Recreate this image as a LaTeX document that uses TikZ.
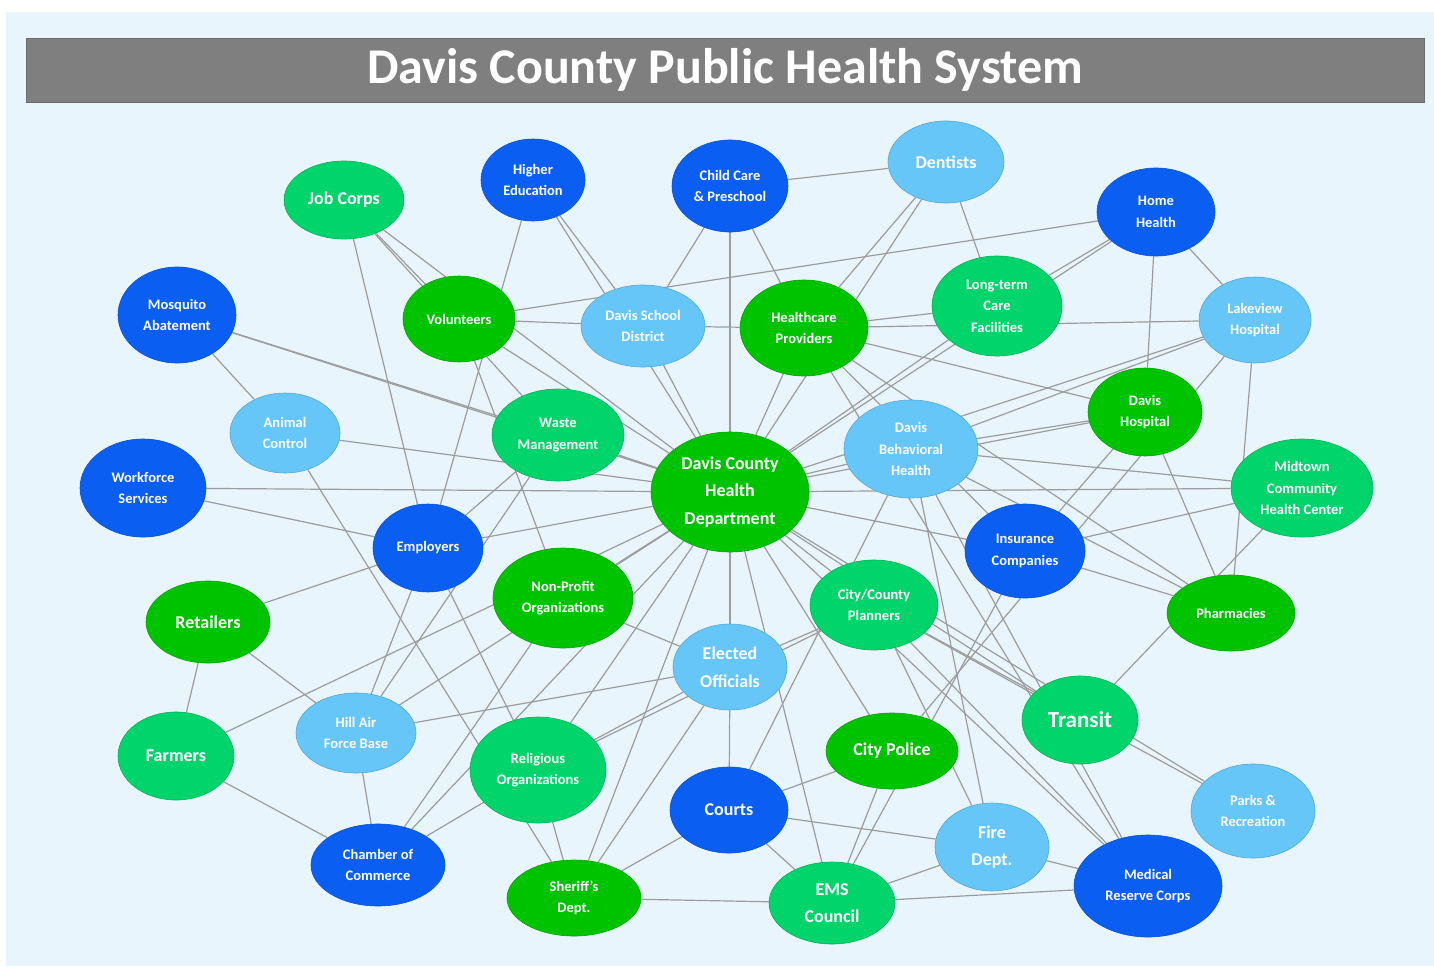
\documentclass[tikz,border=0pt]{standalone}
\usepackage{fontspec}
\setmainfont{Carlito}
\usetikzlibrary{shapes.geometric}
\definecolor{bgblue}{HTML}{E8F5FC}
\definecolor{titlegray}{HTML}{7F7F7F}
\definecolor{dkblue}{HTML}{0A5FF2}
\definecolor{ltblue}{HTML}{66C6F8}
\definecolor{brgreen}{HTML}{00C300}
\definecolor{mdgreen}{HTML}{00D46A}
\definecolor{linkgray}{HTML}{9C9C9C}
\pgfdeclarelayer{bottom}
\pgfdeclarelayer{background}
\pgfsetlayers{bottom,background,main}
\tikzset{
  bub/.style n args={3}{ellipse, minimum width=2*#1, minimum height=2*#2, inner sep=0pt,
     fill=#3, draw=#3!85!black, line width=0.6pt, text=white, align=center, font=\bfseries\fontsize{14.5}{21.5}\selectfont},
  big/.style={font=\bfseries\fontsize{18}{27.5}\selectfont},
  link/.style={draw=linkgray, line width=1.2pt}
}
\begin{document}
\begin{tikzpicture}[x=1pt,y=-1pt]
\useasboundingbox (0,0) rectangle (1434,966);
% nodes
\node[bub={60}{39}{mdgreen},big] (jobcorps) at (344,200) {Job Corps};
\node[bub={52}{41}{dkblue}] (higher) at (533,180) {Higher\\Education};
\node[bub={58}{46}{dkblue}] (childcare) at (730,186) {Child Care\\\& Preschool};
\node[bub={58}{41}{ltblue},big] (dentists) at (946,162) {Dentists};
\node[bub={59}{44}{dkblue}] (homehealth) at (1156,212) {Home\\Health};
\node[bub={59}{48}{dkblue}] (mosquito) at (177,315) {Mosquito\\Abatement};
\node[bub={56}{43}{brgreen}] (volunteers) at (459,319) {Volunteers};
\node[bub={62}{41}{ltblue}] (school) at (643,326) {Davis School\\District};
\node[bub={64}{48}{brgreen}] (healthcare) at (804,328) {Healthcare\\Providers};
\node[bub={65}{50}{mdgreen}] (longterm) at (997,306) {Long-term\\Care\\Facilities};
\node[bub={56}{43}{ltblue}] (lakeview) at (1255,320) {Lakeview\\Hospital};
\node[bub={55}{40}{ltblue}] (animal) at (285,433) {Animal\\Control};
\node[bub={66}{46}{mdgreen}] (waste) at (558,435) {Waste\\Management};
\node[bub={79}{60}{brgreen},big] (dchd) at (730,492) {Davis County\\Health\\Department};
\node[bub={67}{49}{ltblue}] (behavioral) at (911,449) {Davis\\Behavioral\\Health};
\node[bub={57}{44}{brgreen}] (davishosp) at (1145,412) {Davis\\Hospital};
\node[bub={63}{49}{dkblue}] (workforce) at (143,488) {Workforce\\Services};
\node[bub={71}{49}{mdgreen}] (midtown) at (1302,488) {Midtown\\Community\\Health Center};
\node[bub={55}{44}{dkblue}] (employers) at (428,548) {Employers};
\node[bub={60}{47}{dkblue}] (insurance) at (1025,551) {Insurance\\Companies};
\node[bub={70}{50}{brgreen}] (nonprofit) at (563,598) {Non-Profit\\Organizations};
\node[bub={64}{45}{mdgreen}] (citycounty) at (874,605) {City/County\\Planners};
\node[bub={62}{41}{brgreen},big] (retailers) at (208,622) {Retailers};
\node[bub={64}{38}{brgreen}] (pharmacies) at (1231,613) {Pharmacies};
\node[bub={57}{43}{ltblue},big] (elected) at (730,667) {Elected\\Officials};
\node[bub={58}{44}{mdgreen},font=\bfseries\fontsize{23}{28}\selectfont] (transit) at (1080,720) {Transit};
\node[bub={58}{44}{mdgreen},big] (farmers) at (176,756) {Farmers};
\node[bub={60}{40}{ltblue}] (hillair) at (356,733) {Hill Air\\Force Base};
\node[bub={68}{53}{mdgreen}] (religious) at (538,770) {Religious\\Organizations};
\node[bub={66}{38}{brgreen},big] (citypolice) at (892,751) {City Police};
\node[bub={59}{43}{dkblue},big] (courts) at (729,810) {Courts};
\node[bub={62}{47}{ltblue}] (parks) at (1253,811) {Parks \&\\Recreation};
\node[bub={57}{44}{ltblue},big] (fire) at (992,847) {Fire\\Dept.};
\node[bub={67}{41}{dkblue}] (chamber) at (378,865) {Chamber of\\Commerce};
\node[bub={67}{38}{brgreen}] (sheriff) at (574,898) {Sheriff’s\\Dept.};
\node[bub={63}{41}{mdgreen},big] (ems) at (832,903) {EMS\\Council};
\node[bub={74}{51}{dkblue}] (medical) at (1148,886) {Medical\\Reserve Corps};
% background and title
\begin{pgfonlayer}{bottom}
  \fill[white] (0,0) rectangle (1434,966);
  \fill[bgblue] (6,12) rectangle (1434,966);
  \node[fill=titlegray, draw=titlegray!85!black, line width=0.8pt, minimum width=1398pt, minimum height=64pt, inner sep=0pt,
        text=white, font=\bfseries\fontsize{50}{56}\selectfont] (title) at (725,70) {Davis County Public Health System};
\end{pgfonlayer}
% links
\begin{pgfonlayer}{background}
\foreach \n in {mosquito,volunteers,school,higher,childcare,healthcare,longterm,homehealth,lakeview,davishosp,behavioral,midtown,insurance,transit,parks,citycounty,citypolice,ems,elected,sheriff,religious,nonprofit,hillair,farmers,employers,workforce,animal,waste,jobcorps,dentists,medical,chamber}
  {\draw[link] (dchd) -- (\n);}
\foreach \a/\b in {jobcorps/volunteers, jobcorps/waste, jobcorps/employers,
  higher/school, higher/employers,
  childcare/school, childcare/healthcare, childcare/dentists,
  volunteers/homehealth, volunteers/school, volunteers/nonprofit,
  dentists/healthcare, dentists/longterm,
  homehealth/longterm, homehealth/davishosp, homehealth/lakeview,
  school/healthcare,
  healthcare/longterm, healthcare/lakeview, healthcare/davishosp, healthcare/medical, healthcare/pharmacies, healthcare/insurance,
  lakeview/behavioral, lakeview/pharmacies, lakeview/citypolice,
  davishosp/behavioral, davishosp/insurance, davishosp/pharmacies,
  behavioral/midtown, behavioral/medical, behavioral/fire, behavioral/pharmacies,
  insurance/midtown, insurance/pharmacies, insurance/ems,
  midtown/transit,
  employers/workforce, employers/retailers, employers/hillair, employers/religious,
  waste/employers, mosquito/waste, mosquito/animal, animal/sheriff,
  retailers/hillair, retailers/farmers, farmers/chamber,
  hillair/chamber, hillair/elected, hillair/waste,
  chamber/religious, chamber/nonprofit, nonprofit/elected,
  religious/elected, religious/sheriff, religious/citycounty,
  sheriff/courts, sheriff/ems, sheriff/elected,
  courts/elected, courts/citypolice, courts/ems, courts/fire, courts/behavioral,
  ems/citypolice, ems/fire, ems/medical, fire/medical,
  elected/citycounty, citycounty/transit, citycounty/parks, citycounty/medical, citycounty/fire}
  {\draw[link] (\a) -- (\b);}
\end{pgfonlayer}
\end{tikzpicture}
\end{document}
